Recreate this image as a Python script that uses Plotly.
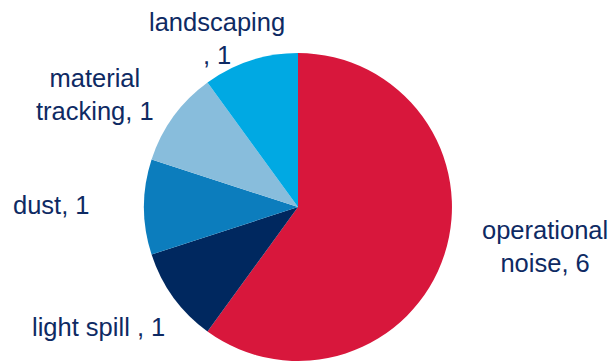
import plotly.graph_objects as go

categories = ["operational noise", "light spill", "dust", "material tracking", "landscaping"]
values = [6, 1, 1, 1, 1]
# label text as wrapped in the original chart
label_names = ["operational<br>noise", "light spill ", "dust", "material<br>tracking", "landscaping<br>"]
colors = ["#D8173C", "#00285F", "#0C7DBD", "#88BDDC", "#00A9E3"]

W, H = 614, 361
# label anchor positions in pixels (layout only)
label_pos = [(544.5, 246), (98.5, 327), (51.5, 205), (95, 95), (217, 39)]

fig = go.Figure(go.Pie(
    labels=categories,
    values=values,
    sort=False,
    direction="clockwise",
    rotation=0,
    marker=dict(colors=colors, line=dict(width=0)),
    textinfo="none",
    hoverinfo="label+value",
    showlegend=False,
    domain=dict(x=[143 / W, 453 / W], y=[0, 0.853]),
))

for name, v, (px, py) in zip(label_names, values, label_pos):
    fig.add_annotation(
        text=f"{name}, {v}",
        x=px / W, y=1 - py / H,
        xref="paper", yref="paper",
        xanchor="center", yanchor="middle",
        showarrow=False, align="center",
        font=dict(family="Liberation Sans, Arial, sans-serif", size=25.5, color="#0E2A63"),
    )

fig.update_layout(
    width=W, height=H,
    margin=dict(l=0, r=0, t=0, b=0),
    paper_bgcolor="white",
    plot_bgcolor="white",
)

fig.write_html("out.html", config={"displayModeBar": False},
               post_script="document.body.style.margin='0';")
